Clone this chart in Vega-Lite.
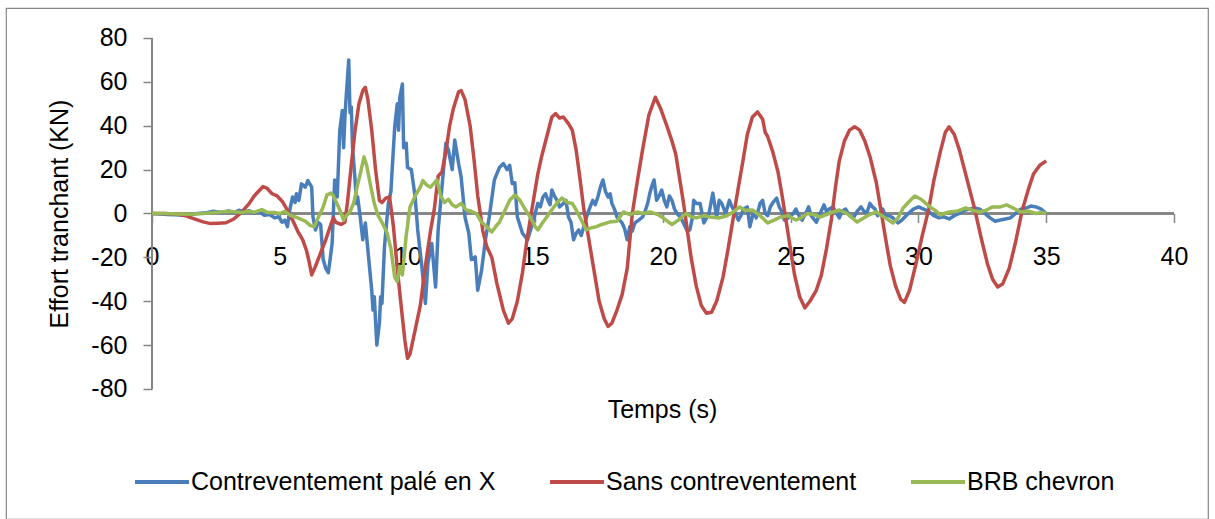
{
"$schema": "https://vega.github.io/schema/vega-lite/v6.json",
"width": 1202, "height": 511,
"autosize": {"type": "none"},
"padding": {"left": 6, "top": 8, "right": 7, "bottom": 0},
"background": "white",
"config": {
  "view": {"stroke": "#868686", "strokeWidth": 1.2},
  "font": "Liberation Sans",
  "axis": {"domain": false, "grid": false, "tickColor": "#868686", "tickWidth": 1.5, "tickSize": 9,
    "labelFont": "Liberation Sans", "labelFontSize": 25, "labelColor": "#000000", "labelExpr": "'' + datum.value",
    "titleFont": "Liberation Sans", "titleFontSize": 25, "titleFontWeight": "normal", "titleColor": "#000000"},
  "legend": {"labelFont": "Liberation Sans", "labelFontSize": 25, "labelColor": "#000000"}
},
"data": {"values": [
{"s":"Contreventement palé en X","t":0,"v":0},{"s":"Contreventement palé en X","t":0.3,"v":-0.2},{"s":"Contreventement palé en X","t":0.6,"v":-0.5},{"s":"Contreventement palé en X","t":0.9,"v":-0.6},{"s":"Contreventement palé en X","t":1.2,"v":-0.8},{"s":"Contreventement palé en X","t":1.5,"v":-0.5},{"s":"Contreventement palé en X","t":1.8,"v":0},{"s":"Contreventement palé en X","t":2.1,"v":0.3},{"s":"Contreventement palé en X","t":2.4,"v":1},{"s":"Contreventement palé en X","t":2.7,"v":0.5},{"s":"Contreventement palé en X","t":3.0,"v":1.2},{"s":"Contreventement palé en X","t":3.2,"v":0.4},{"s":"Contreventement palé en X","t":3.4,"v":1.5},{"s":"Contreventement palé en X","t":3.6,"v":0.6},{"s":"Contreventement palé en X","t":3.8,"v":1.3},{"s":"Contreventement palé en X","t":4.0,"v":0.2},{"s":"Contreventement palé en X","t":4.2,"v":0.8},{"s":"Contreventement palé en X","t":4.4,"v":-0.8},{"s":"Contreventement palé en X","t":4.6,"v":-0.5},{"s":"Contreventement palé en X","t":4.8,"v":-2},{"s":"Contreventement palé en X","t":4.95,"v":-1.5},{"s":"Contreventement palé en X","t":5.1,"v":-4},{"s":"Contreventement palé en X","t":5.2,"v":-3},{"s":"Contreventement palé en X","t":5.3,"v":-6},{"s":"Contreventement palé en X","t":5.4,"v":2},{"s":"Contreventement palé en X","t":5.5,"v":7.5},{"s":"Contreventement palé en X","t":5.6,"v":5},{"s":"Contreventement palé en X","t":5.65,"v":9},{"s":"Contreventement palé en X","t":5.75,"v":6},{"s":"Contreventement palé en X","t":5.85,"v":13.5},{"s":"Contreventement palé en X","t":6.0,"v":12},{"s":"Contreventement palé en X","t":6.1,"v":15},{"s":"Contreventement palé en X","t":6.2,"v":13},{"s":"Contreventement palé en X","t":6.25,"v":12},{"s":"Contreventement palé en X","t":6.3,"v":-1.6},{"s":"Contreventement palé en X","t":6.4,"v":-7.5},{"s":"Contreventement palé en X","t":6.5,"v":-4},{"s":"Contreventement palé en X","t":6.6,"v":-5},{"s":"Contreventement palé en X","t":6.7,"v":-21},{"s":"Contreventement palé en X","t":6.8,"v":-25},{"s":"Contreventement palé en X","t":6.9,"v":-27},{"s":"Contreventement palé en X","t":6.95,"v":-22.8},{"s":"Contreventement palé en X","t":7.05,"v":-13.7},{"s":"Contreventement palé en X","t":7.15,"v":15.3},{"s":"Contreventement palé en X","t":7.25,"v":7.5},{"s":"Contreventement palé en X","t":7.35,"v":38},{"s":"Contreventement palé en X","t":7.45,"v":47},{"s":"Contreventement palé en X","t":7.5,"v":30},{"s":"Contreventement palé en X","t":7.55,"v":44},{"s":"Contreventement palé en X","t":7.6,"v":53},{"s":"Contreventement palé en X","t":7.7,"v":70},{"s":"Contreventement palé en X","t":7.75,"v":46},{"s":"Contreventement palé en X","t":7.8,"v":48.6},{"s":"Contreventement palé en X","t":7.85,"v":30},{"s":"Contreventement palé en X","t":7.95,"v":15},{"s":"Contreventement palé en X","t":8.0,"v":4.6},{"s":"Contreventement palé en X","t":8.05,"v":7.5},{"s":"Contreventement palé en X","t":8.15,"v":-1.6},{"s":"Contreventement palé en X","t":8.25,"v":-12},{"s":"Contreventement palé en X","t":8.35,"v":-4.3},{"s":"Contreventement palé en X","t":8.5,"v":-22.8},{"s":"Contreventement palé en X","t":8.6,"v":-35},{"s":"Contreventement palé en X","t":8.65,"v":-44},{"s":"Contreventement palé en X","t":8.7,"v":-38},{"s":"Contreventement palé en X","t":8.8,"v":-60},{"s":"Contreventement palé en X","t":8.9,"v":-50},{"s":"Contreventement palé en X","t":8.95,"v":-38},{"s":"Contreventement palé en X","t":9.0,"v":-41},{"s":"Contreventement palé en X","t":9.1,"v":-15},{"s":"Contreventement palé en X","t":9.25,"v":4.6},{"s":"Contreventement palé en X","t":9.35,"v":10},{"s":"Contreventement palé en X","t":9.4,"v":20},{"s":"Contreventement palé en X","t":9.5,"v":39.4},{"s":"Contreventement palé en X","t":9.6,"v":50},{"s":"Contreventement palé en X","t":9.65,"v":38},{"s":"Contreventement palé en X","t":9.7,"v":53},{"s":"Contreventement palé en X","t":9.8,"v":59},{"s":"Contreventement palé en X","t":9.85,"v":30},{"s":"Contreventement palé en X","t":9.95,"v":32},{"s":"Contreventement palé en X","t":10.0,"v":21},{"s":"Contreventement palé en X","t":10.15,"v":20},{"s":"Contreventement palé en X","t":10.3,"v":7.5},{"s":"Contreventement palé en X","t":10.4,"v":-7.5},{"s":"Contreventement palé en X","t":10.55,"v":-22.8},{"s":"Contreventement palé en X","t":10.7,"v":-41},{"s":"Contreventement palé en X","t":10.8,"v":-22.8},{"s":"Contreventement palé en X","t":10.95,"v":-13.7},{"s":"Contreventement palé en X","t":11.1,"v":-33.5},{"s":"Contreventement palé en X","t":11.2,"v":-7.5},{"s":"Contreventement palé en X","t":11.35,"v":12},{"s":"Contreventement palé en X","t":11.5,"v":32},{"s":"Contreventement palé en X","t":11.6,"v":29},{"s":"Contreventement palé en X","t":11.75,"v":20},{"s":"Contreventement palé en X","t":11.85,"v":33.5},{"s":"Contreventement palé en X","t":12.0,"v":22.8},{"s":"Contreventement palé en X","t":12.1,"v":16.6},{"s":"Contreventement palé en X","t":12.25,"v":-1.6},{"s":"Contreventement palé en X","t":12.4,"v":-9},{"s":"Contreventement palé en X","t":12.5,"v":-21},{"s":"Contreventement palé en X","t":12.65,"v":-19.8},{"s":"Contreventement palé en X","t":12.75,"v":-35},{"s":"Contreventement palé en X","t":12.9,"v":-25.8},{"s":"Contreventement palé en X","t":13.05,"v":-12},{"s":"Contreventement palé en X","t":13.2,"v":-1.6},{"s":"Contreventement palé en X","t":13.4,"v":15.3},{"s":"Contreventement palé en X","t":13.6,"v":21},{"s":"Contreventement palé en X","t":13.75,"v":22.8},{"s":"Contreventement palé en X","t":13.9,"v":20},{"s":"Contreventement palé en X","t":14.0,"v":22},{"s":"Contreventement palé en X","t":14.1,"v":13.7},{"s":"Contreventement palé en X","t":14.2,"v":14},{"s":"Contreventement palé en X","t":14.3,"v":-1.6},{"s":"Contreventement palé en X","t":14.5,"v":-9},{"s":"Contreventement palé en X","t":14.7,"v":-12},{"s":"Contreventement palé en X","t":14.9,"v":-4.3},{"s":"Contreventement palé en X","t":15.1,"v":4.6},{"s":"Contreventement palé en X","t":15.3,"v":7.5},{"s":"Contreventement palé en X","t":15.5,"v":6},{"s":"Contreventement palé en X","t":15.65,"v":10.7},{"s":"Contreventement palé en X","t":15.85,"v":6},{"s":"Contreventement palé en X","t":16.1,"v":4.6},{"s":"Contreventement palé en X","t":16.3,"v":-1.6},{"s":"Contreventement palé en X","t":16.5,"v":-12},{"s":"Contreventement palé en X","t":16.7,"v":-7.5},{"s":"Contreventement palé en X","t":16.9,"v":-6},{"s":"Contreventement palé en X","t":17.05,"v":0},{"s":"Contreventement palé en X","t":17.25,"v":6},{"s":"Contreventement palé en X","t":17.45,"v":7.5},{"s":"Contreventement palé en X","t":17.65,"v":15.3},{"s":"Contreventement palé en X","t":17.85,"v":7.5},{"s":"Contreventement palé en X","t":18.0,"v":4.6},{"s":"Contreventement palé en X","t":18.2,"v":-1.6},{"s":"Contreventement palé en X","t":18.4,"v":-4.3},{"s":"Contreventement palé en X","t":18.6,"v":-12},{"s":"Contreventement palé en X","t":18.7,"v":-6},{"s":"Contreventement palé en X","t":18.9,"v":-4.3},{"s":"Contreventement palé en X","t":19.2,"v":-1.6},{"s":"Contreventement palé en X","t":19.4,"v":4.6},{"s":"Contreventement palé en X","t":19.55,"v":12},{"s":"Contreventement palé en X","t":19.65,"v":15.3},{"s":"Contreventement palé en X","t":19.75,"v":6},{"s":"Contreventement palé en X","t":19.95,"v":10.7},{"s":"Contreventement palé en X","t":20.15,"v":3},{"s":"Contreventement palé en X","t":20.35,"v":6},{"s":"Contreventement palé en X","t":20.55,"v":0},{"s":"Contreventement palé en X","t":20.8,"v":-4.3},{"s":"Contreventement palé en X","t":21.05,"v":-7.5},{"s":"Contreventement palé en X","t":21.3,"v":4.6},{"s":"Contreventement palé en X","t":21.45,"v":4.6},{"s":"Contreventement palé en X","t":21.6,"v":-4.3},{"s":"Contreventement palé en X","t":21.8,"v":0},{"s":"Contreventement palé en X","t":21.95,"v":9.3},{"s":"Contreventement palé en X","t":22.1,"v":-1.6},{"s":"Contreventement palé en X","t":22.3,"v":4.6},{"s":"Contreventement palé en X","t":22.45,"v":0},{"s":"Contreventement palé en X","t":22.6,"v":6},{"s":"Contreventement palé en X","t":22.8,"v":1},{"s":"Contreventement palé en X","t":22.95,"v":-3},{"s":"Contreventement palé en X","t":23.15,"v":2},{"s":"Contreventement palé en X","t":23.4,"v":-6},{"s":"Contreventement palé en X","t":23.55,"v":1},{"s":"Contreventement palé en X","t":23.8,"v":4.6},{"s":"Contreventement palé en X","t":24.0,"v":0},{"s":"Contreventement palé en X","t":24.2,"v":3},{"s":"Contreventement palé en X","t":24.45,"v":7},{"s":"Contreventement palé en X","t":24.65,"v":1},{"s":"Contreventement palé en X","t":24.9,"v":-2},{"s":"Contreventement palé en X","t":25.1,"v":0},{"s":"Contreventement palé en X","t":25.35,"v":-1.6},{"s":"Contreventement palé en X","t":25.6,"v":0.5},{"s":"Contreventement palé en X","t":25.8,"v":-1},{"s":"Contreventement palé en X","t":26.0,"v":-4},{"s":"Contreventement palé en X","t":26.3,"v":3.9},{"s":"Contreventement palé en X","t":26.5,"v":2},{"s":"Contreventement palé en X","t":26.8,"v":0},{"s":"Contreventement palé en X","t":27.0,"v":1},{"s":"Contreventement palé en X","t":27.3,"v":-1},{"s":"Contreventement palé en X","t":27.6,"v":1},{"s":"Contreventement palé en X","t":27.9,"v":0.5},{"s":"Contreventement palé en X","t":28.1,"v":4.6},{"s":"Contreventement palé en X","t":28.3,"v":2},{"s":"Contreventement palé en X","t":28.5,"v":0},{"s":"Contreventement palé en X","t":28.7,"v":-1},{"s":"Contreventement palé en X","t":29.0,"v":-2},{"s":"Contreventement palé en X","t":29.2,"v":-4.3},{"s":"Contreventement palé en X","t":29.35,"v":-3},{"s":"Contreventement palé en X","t":29.6,"v":0},{"s":"Contreventement palé en X","t":29.8,"v":2},{"s":"Contreventement palé en X","t":30.0,"v":3},{"s":"Contreventement palé en X","t":30.2,"v":2},{"s":"Contreventement palé en X","t":30.4,"v":1},{"s":"Contreventement palé en X","t":30.6,"v":-1},{"s":"Contreventement palé en X","t":30.8,"v":-2},{"s":"Contreventement palé en X","t":31.0,"v":-1.5},{"s":"Contreventement palé en X","t":31.2,"v":-2.5},{"s":"Contreventement palé en X","t":31.4,"v":-1},{"s":"Contreventement palé en X","t":31.6,"v":0},{"s":"Contreventement palé en X","t":31.8,"v":1.5},{"s":"Contreventement palé en X","t":32.0,"v":2},{"s":"Contreventement palé en X","t":32.2,"v":2.5},{"s":"Contreventement palé en X","t":32.4,"v":2},{"s":"Contreventement palé en X","t":32.6,"v":0},{"s":"Contreventement palé en X","t":32.8,"v":-2},{"s":"Contreventement palé en X","t":33.0,"v":-3.5},{"s":"Contreventement palé en X","t":33.2,"v":-3},{"s":"Contreventement palé en X","t":33.4,"v":-2.5},{"s":"Contreventement palé en X","t":33.6,"v":-2},{"s":"Contreventement palé en X","t":33.8,"v":0},{"s":"Contreventement palé en X","t":34.0,"v":2},{"s":"Contreventement palé en X","t":34.2,"v":2.5},{"s":"Contreventement palé en X","t":34.4,"v":3.4},{"s":"Contreventement palé en X","t":34.6,"v":3},{"s":"Contreventement palé en X","t":34.8,"v":2},{"s":"Contreventement palé en X","t":35.0,"v":0},
{"s":"Contreventement palé en X","t":15.2,"v":3},{"s":"Contreventement palé en X","t":15.4,"v":9},{"s":"Contreventement palé en X","t":15.58,"v":4},{"s":"Contreventement palé en X","t":15.75,"v":8},{"s":"Contreventement palé en X","t":15.95,"v":3},{"s":"Contreventement palé en X","t":16.2,"v":6},{"s":"Contreventement palé en X","t":16.4,"v":-4},{"s":"Contreventement palé en X","t":16.6,"v":-9},{"s":"Contreventement palé en X","t":16.8,"v":-10},{"s":"Contreventement palé en X","t":17.15,"v":3},{"s":"Contreventement palé en X","t":17.35,"v":4},{"s":"Contreventement palé en X","t":17.55,"v":12},{"s":"Contreventement palé en X","t":17.75,"v":10},{"s":"Contreventement palé en X","t":17.93,"v":9},{"s":"Contreventement palé en X","t":18.1,"v":2},{"s":"Contreventement palé en X","t":18.3,"v":-3},{"s":"Contreventement palé en X","t":18.5,"v":-7},{"s":"Contreventement palé en X","t":18.8,"v":-8},{"s":"Contreventement palé en X","t":19.05,"v":-3},{"s":"Contreventement palé en X","t":19.3,"v":1},{"s":"Contreventement palé en X","t":19.48,"v":9},{"s":"Contreventement palé en X","t":19.85,"v":8},{"s":"Contreventement palé en X","t":20.05,"v":6},{"s":"Contreventement palé en X","t":20.25,"v":8},{"s":"Contreventement palé en X","t":20.45,"v":2},{"s":"Contreventement palé en X","t":20.7,"v":-2},{"s":"Contreventement palé en X","t":20.95,"v":-8},{"s":"Contreventement palé en X","t":21.15,"v":-2},{"s":"Contreventement palé en X","t":21.2,"v":6},{"s":"Contreventement palé en X","t":22.2,"v":6},{"s":"Contreventement palé en X","t":22.7,"v":3},{"s":"Contreventement palé en X","t":23.05,"v":-1},{"s":"Contreventement palé en X","t":23.3,"v":3},{"s":"Contreventement palé en X","t":23.65,"v":-2},{"s":"Contreventement palé en X","t":23.9,"v":6},{"s":"Contreventement palé en X","t":24.1,"v":-1},{"s":"Contreventement palé en X","t":24.3,"v":5},{"s":"Contreventement palé en X","t":24.55,"v":3},{"s":"Contreventement palé en X","t":24.75,"v":-3},{"s":"Contreventement palé en X","t":25.2,"v":2},{"s":"Contreventement palé en X","t":25.45,"v":-3},{"s":"Contreventement palé en X","t":25.7,"v":3},{"s":"Contreventement palé en X","t":26.15,"v":0},{"s":"Contreventement palé en X","t":26.4,"v":1},{"s":"Contreventement palé en X","t":26.65,"v":3},{"s":"Contreventement palé en X","t":26.9,"v":-2},{"s":"Contreventement palé en X","t":27.15,"v":2},{"s":"Contreventement palé en X","t":27.45,"v":-2},{"s":"Contreventement palé en X","t":27.75,"v":3},{"s":"Contreventement palé en X","t":28.0,"v":1},{"s":"Contreventement palé en X","t":28.2,"v":3},{"s":"Contreventement palé en X","t":28.4,"v":-1},{"s":"Contreventement palé en X","t":28.6,"v":2},{"s":"Contreventement palé en X","t":28.85,"v":-1},
{"s":"Sans contreventement","t":0,"v":0},{"s":"Sans contreventement","t":0.5,"v":0},{"s":"Sans contreventement","t":1.0,"v":-0.3},{"s":"Sans contreventement","t":1.3,"v":-1},{"s":"Sans contreventement","t":1.6,"v":-2.2},{"s":"Sans contreventement","t":2.0,"v":-3.8},{"s":"Sans contreventement","t":2.3,"v":-4.6},{"s":"Sans contreventement","t":2.6,"v":-4.4},{"s":"Sans contreventement","t":2.9,"v":-4.2},{"s":"Sans contreventement","t":3.2,"v":-2.5},{"s":"Sans contreventement","t":3.5,"v":0.5},{"s":"Sans contreventement","t":3.8,"v":4.5},{"s":"Sans contreventement","t":4.0,"v":8},{"s":"Sans contreventement","t":4.2,"v":10.5},{"s":"Sans contreventement","t":4.35,"v":12.3},{"s":"Sans contreventement","t":4.5,"v":11.5},{"s":"Sans contreventement","t":4.7,"v":9},{"s":"Sans contreventement","t":4.9,"v":8},{"s":"Sans contreventement","t":5.1,"v":5.5},{"s":"Sans contreventement","t":5.3,"v":1.5},{"s":"Sans contreventement","t":5.5,"v":-3},{"s":"Sans contreventement","t":5.7,"v":-8},{"s":"Sans contreventement","t":5.9,"v":-12},{"s":"Sans contreventement","t":6.05,"v":-17},{"s":"Sans contreventement","t":6.15,"v":-22},{"s":"Sans contreventement","t":6.25,"v":-28},{"s":"Sans contreventement","t":6.4,"v":-24},{"s":"Sans contreventement","t":6.6,"v":-18},{"s":"Sans contreventement","t":6.8,"v":-12},{"s":"Sans contreventement","t":7.0,"v":-5},{"s":"Sans contreventement","t":7.1,"v":-2},{"s":"Sans contreventement","t":7.2,"v":-4},{"s":"Sans contreventement","t":7.4,"v":-5},{"s":"Sans contreventement","t":7.55,"v":-4},{"s":"Sans contreventement","t":7.65,"v":5},{"s":"Sans contreventement","t":7.8,"v":22},{"s":"Sans contreventement","t":7.95,"v":38},{"s":"Sans contreventement","t":8.1,"v":50},{"s":"Sans contreventement","t":8.25,"v":56},{"s":"Sans contreventement","t":8.35,"v":57.5},{"s":"Sans contreventement","t":8.45,"v":52},{"s":"Sans contreventement","t":8.6,"v":38},{"s":"Sans contreventement","t":8.75,"v":20},{"s":"Sans contreventement","t":8.9,"v":6},{"s":"Sans contreventement","t":9.0,"v":5},{"s":"Sans contreventement","t":9.15,"v":7},{"s":"Sans contreventement","t":9.3,"v":7.5},{"s":"Sans contreventement","t":9.45,"v":-6},{"s":"Sans contreventement","t":9.6,"v":-25},{"s":"Sans contreventement","t":9.75,"v":-42},{"s":"Sans contreventement","t":9.9,"v":-58},{"s":"Sans contreventement","t":10.0,"v":-66},{"s":"Sans contreventement","t":10.1,"v":-64},{"s":"Sans contreventement","t":10.3,"v":-53},{"s":"Sans contreventement","t":10.5,"v":-42},{"s":"Sans contreventement","t":10.7,"v":-24},{"s":"Sans contreventement","t":10.9,"v":-8},{"s":"Sans contreventement","t":11.05,"v":2},{"s":"Sans contreventement","t":11.2,"v":17},{"s":"Sans contreventement","t":11.35,"v":19},{"s":"Sans contreventement","t":11.5,"v":28},{"s":"Sans contreventement","t":11.65,"v":40},{"s":"Sans contreventement","t":11.8,"v":48},{"s":"Sans contreventement","t":12.0,"v":55.5},{"s":"Sans contreventement","t":12.1,"v":56},{"s":"Sans contreventement","t":12.25,"v":52},{"s":"Sans contreventement","t":12.45,"v":40},{"s":"Sans contreventement","t":12.6,"v":25},{"s":"Sans contreventement","t":12.75,"v":8},{"s":"Sans contreventement","t":12.95,"v":-8},{"s":"Sans contreventement","t":13.1,"v":-15},{"s":"Sans contreventement","t":13.3,"v":-20},{"s":"Sans contreventement","t":13.5,"v":-32},{"s":"Sans contreventement","t":13.75,"v":-44},{"s":"Sans contreventement","t":13.95,"v":-50},{"s":"Sans contreventement","t":14.1,"v":-48},{"s":"Sans contreventement","t":14.3,"v":-40},{"s":"Sans contreventement","t":14.5,"v":-27},{"s":"Sans contreventement","t":14.7,"v":-10},{"s":"Sans contreventement","t":14.9,"v":4},{"s":"Sans contreventement","t":15.1,"v":18},{"s":"Sans contreventement","t":15.25,"v":26},{"s":"Sans contreventement","t":15.45,"v":35},{"s":"Sans contreventement","t":15.65,"v":44},{"s":"Sans contreventement","t":15.8,"v":45.5},{"s":"Sans contreventement","t":15.95,"v":43.5},{"s":"Sans contreventement","t":16.1,"v":44},{"s":"Sans contreventement","t":16.3,"v":41},{"s":"Sans contreventement","t":16.45,"v":38},{"s":"Sans contreventement","t":16.6,"v":29},{"s":"Sans contreventement","t":16.75,"v":16},{"s":"Sans contreventement","t":16.9,"v":2},{"s":"Sans contreventement","t":17.1,"v":-12},{"s":"Sans contreventement","t":17.3,"v":-26},{"s":"Sans contreventement","t":17.5,"v":-40},{"s":"Sans contreventement","t":17.7,"v":-48},{"s":"Sans contreventement","t":17.85,"v":-51.5},{"s":"Sans contreventement","t":18.0,"v":-50},{"s":"Sans contreventement","t":18.2,"v":-44},{"s":"Sans contreventement","t":18.4,"v":-37},{"s":"Sans contreventement","t":18.6,"v":-25},{"s":"Sans contreventement","t":18.8,"v":0},{"s":"Sans contreventement","t":19.0,"v":15},{"s":"Sans contreventement","t":19.2,"v":29},{"s":"Sans contreventement","t":19.45,"v":45},{"s":"Sans contreventement","t":19.7,"v":53},{"s":"Sans contreventement","t":19.9,"v":48},{"s":"Sans contreventement","t":20.15,"v":40},{"s":"Sans contreventement","t":20.35,"v":33},{"s":"Sans contreventement","t":20.5,"v":27},{"s":"Sans contreventement","t":20.8,"v":5},{"s":"Sans contreventement","t":21.1,"v":-20},{"s":"Sans contreventement","t":21.3,"v":-33},{"s":"Sans contreventement","t":21.5,"v":-42},{"s":"Sans contreventement","t":21.7,"v":-45.5},{"s":"Sans contreventement","t":21.9,"v":-45},{"s":"Sans contreventement","t":22.1,"v":-40},{"s":"Sans contreventement","t":22.35,"v":-29},{"s":"Sans contreventement","t":22.55,"v":-16},{"s":"Sans contreventement","t":22.75,"v":-2},{"s":"Sans contreventement","t":22.95,"v":12},{"s":"Sans contreventement","t":23.1,"v":22},{"s":"Sans contreventement","t":23.3,"v":36},{"s":"Sans contreventement","t":23.5,"v":44},{"s":"Sans contreventement","t":23.7,"v":46.3},{"s":"Sans contreventement","t":23.9,"v":43},{"s":"Sans contreventement","t":24.0,"v":37},{"s":"Sans contreventement","t":24.1,"v":35},{"s":"Sans contreventement","t":24.3,"v":28},{"s":"Sans contreventement","t":24.5,"v":19},{"s":"Sans contreventement","t":24.65,"v":9},{"s":"Sans contreventement","t":24.8,"v":-2},{"s":"Sans contreventement","t":25.0,"v":-17},{"s":"Sans contreventement","t":25.15,"v":-28},{"s":"Sans contreventement","t":25.35,"v":-38},{"s":"Sans contreventement","t":25.55,"v":-43},{"s":"Sans contreventement","t":25.75,"v":-40},{"s":"Sans contreventement","t":26.0,"v":-35},{"s":"Sans contreventement","t":26.2,"v":-28},{"s":"Sans contreventement","t":26.4,"v":-16},{"s":"Sans contreventement","t":26.6,"v":-2},{"s":"Sans contreventement","t":26.75,"v":12},{"s":"Sans contreventement","t":26.9,"v":24},{"s":"Sans contreventement","t":27.1,"v":33},{"s":"Sans contreventement","t":27.3,"v":38},{"s":"Sans contreventement","t":27.5,"v":39.5},{"s":"Sans contreventement","t":27.7,"v":38},{"s":"Sans contreventement","t":27.9,"v":33},{"s":"Sans contreventement","t":28.1,"v":26},{"s":"Sans contreventement","t":28.35,"v":14},{"s":"Sans contreventement","t":28.55,"v":0},{"s":"Sans contreventement","t":28.75,"v":-14},{"s":"Sans contreventement","t":28.9,"v":-24},{"s":"Sans contreventement","t":29.1,"v":-33},{"s":"Sans contreventement","t":29.3,"v":-39},{"s":"Sans contreventement","t":29.45,"v":-40.5},{"s":"Sans contreventement","t":29.65,"v":-35},{"s":"Sans contreventement","t":29.9,"v":-23},{"s":"Sans contreventement","t":30.15,"v":-10},{"s":"Sans contreventement","t":30.4,"v":2},{"s":"Sans contreventement","t":30.6,"v":15},{"s":"Sans contreventement","t":30.85,"v":28},{"s":"Sans contreventement","t":31.05,"v":37},{"s":"Sans contreventement","t":31.2,"v":39.5},{"s":"Sans contreventement","t":31.4,"v":36},{"s":"Sans contreventement","t":31.6,"v":29},{"s":"Sans contreventement","t":31.8,"v":20},{"s":"Sans contreventement","t":32.0,"v":11},{"s":"Sans contreventement","t":32.2,"v":2},{"s":"Sans contreventement","t":32.45,"v":-11},{"s":"Sans contreventement","t":32.7,"v":-23},{"s":"Sans contreventement","t":32.9,"v":-30},{"s":"Sans contreventement","t":33.1,"v":-33.5},{"s":"Sans contreventement","t":33.3,"v":-32},{"s":"Sans contreventement","t":33.55,"v":-25},{"s":"Sans contreventement","t":33.8,"v":-13},{"s":"Sans contreventement","t":34.05,"v":1},{"s":"Sans contreventement","t":34.3,"v":11},{"s":"Sans contreventement","t":34.5,"v":18},{"s":"Sans contreventement","t":34.75,"v":22},{"s":"Sans contreventement","t":35.0,"v":24},
{"s":"BRB chevron","t":0,"v":0},{"s":"BRB chevron","t":0.5,"v":0},{"s":"BRB chevron","t":1.0,"v":-0.2},{"s":"BRB chevron","t":1.5,"v":-0.3},{"s":"BRB chevron","t":2.0,"v":0},{"s":"BRB chevron","t":2.5,"v":0.5},{"s":"BRB chevron","t":3.0,"v":1},{"s":"BRB chevron","t":3.5,"v":0.5},{"s":"BRB chevron","t":3.8,"v":1},{"s":"BRB chevron","t":4.0,"v":0.5},{"s":"BRB chevron","t":4.3,"v":1.8},{"s":"BRB chevron","t":4.5,"v":0.5},{"s":"BRB chevron","t":4.8,"v":0.5},{"s":"BRB chevron","t":5.0,"v":0},{"s":"BRB chevron","t":5.2,"v":1},{"s":"BRB chevron","t":5.4,"v":-0.7},{"s":"BRB chevron","t":5.7,"v":-2},{"s":"BRB chevron","t":6.0,"v":-3.5},{"s":"BRB chevron","t":6.2,"v":-5.5},{"s":"BRB chevron","t":6.35,"v":-6},{"s":"BRB chevron","t":6.5,"v":-2},{"s":"BRB chevron","t":6.7,"v":3},{"s":"BRB chevron","t":6.85,"v":8.5},{"s":"BRB chevron","t":7.0,"v":9.3},{"s":"BRB chevron","t":7.1,"v":8},{"s":"BRB chevron","t":7.3,"v":3},{"s":"BRB chevron","t":7.5,"v":-3},{"s":"BRB chevron","t":7.6,"v":-1},{"s":"BRB chevron","t":7.75,"v":0.7},{"s":"BRB chevron","t":7.9,"v":5},{"s":"BRB chevron","t":8.0,"v":10.7},{"s":"BRB chevron","t":8.15,"v":18},{"s":"BRB chevron","t":8.3,"v":25.8},{"s":"BRB chevron","t":8.4,"v":22},{"s":"BRB chevron","t":8.55,"v":13},{"s":"BRB chevron","t":8.7,"v":4.6},{"s":"BRB chevron","t":8.85,"v":-1},{"s":"BRB chevron","t":9.0,"v":-4},{"s":"BRB chevron","t":9.2,"v":-8.8},{"s":"BRB chevron","t":9.35,"v":-16},{"s":"BRB chevron","t":9.5,"v":-29},{"s":"BRB chevron","t":9.6,"v":-31},{"s":"BRB chevron","t":9.7,"v":-24},{"s":"BRB chevron","t":9.8,"v":-28},{"s":"BRB chevron","t":9.95,"v":-10},{"s":"BRB chevron","t":10.1,"v":3},{"s":"BRB chevron","t":10.3,"v":8},{"s":"BRB chevron","t":10.5,"v":12},{"s":"BRB chevron","t":10.6,"v":15},{"s":"BRB chevron","t":10.75,"v":13},{"s":"BRB chevron","t":10.9,"v":12},{"s":"BRB chevron","t":11.05,"v":14},{"s":"BRB chevron","t":11.15,"v":15.3},{"s":"BRB chevron","t":11.3,"v":8},{"s":"BRB chevron","t":11.45,"v":5},{"s":"BRB chevron","t":11.6,"v":6.5},{"s":"BRB chevron","t":11.75,"v":4},{"s":"BRB chevron","t":11.9,"v":3},{"s":"BRB chevron","t":12.1,"v":4.6},{"s":"BRB chevron","t":12.3,"v":1.6},{"s":"BRB chevron","t":12.5,"v":1},{"s":"BRB chevron","t":12.7,"v":0},{"s":"BRB chevron","t":12.9,"v":-4},{"s":"BRB chevron","t":13.1,"v":-6},{"s":"BRB chevron","t":13.3,"v":-8.4},{"s":"BRB chevron","t":13.45,"v":-6},{"s":"BRB chevron","t":13.6,"v":-3.9},{"s":"BRB chevron","t":13.8,"v":1},{"s":"BRB chevron","t":14.0,"v":6},{"s":"BRB chevron","t":14.2,"v":8.4},{"s":"BRB chevron","t":14.4,"v":6},{"s":"BRB chevron","t":14.6,"v":2},{"s":"BRB chevron","t":14.8,"v":-1.6},{"s":"BRB chevron","t":15.0,"v":-6},{"s":"BRB chevron","t":15.1,"v":-7.5},{"s":"BRB chevron","t":15.3,"v":-4},{"s":"BRB chevron","t":15.45,"v":-1.6},{"s":"BRB chevron","t":15.7,"v":2.5},{"s":"BRB chevron","t":15.9,"v":5.5},{"s":"BRB chevron","t":16.05,"v":7},{"s":"BRB chevron","t":16.25,"v":5},{"s":"BRB chevron","t":16.45,"v":4.6},{"s":"BRB chevron","t":16.6,"v":1.6},{"s":"BRB chevron","t":16.8,"v":-3},{"s":"BRB chevron","t":17.0,"v":-7.5},{"s":"BRB chevron","t":17.2,"v":-6.5},{"s":"BRB chevron","t":17.4,"v":-6},{"s":"BRB chevron","t":17.6,"v":-5},{"s":"BRB chevron","t":17.9,"v":-3.9},{"s":"BRB chevron","t":18.2,"v":-3.5},{"s":"BRB chevron","t":18.45,"v":0.7},{"s":"BRB chevron","t":18.7,"v":-0.5},{"s":"BRB chevron","t":19.0,"v":0.7},{"s":"BRB chevron","t":19.2,"v":0},{"s":"BRB chevron","t":19.5,"v":0.7},{"s":"BRB chevron","t":19.8,"v":-0.5},{"s":"BRB chevron","t":20.0,"v":-2},{"s":"BRB chevron","t":20.35,"v":-5},{"s":"BRB chevron","t":20.6,"v":-3},{"s":"BRB chevron","t":20.9,"v":0},{"s":"BRB chevron","t":21.1,"v":-1.5},{"s":"BRB chevron","t":21.3,"v":-2},{"s":"BRB chevron","t":21.6,"v":-1},{"s":"BRB chevron","t":21.85,"v":-1.6},{"s":"BRB chevron","t":22.2,"v":-2},{"s":"BRB chevron","t":22.5,"v":-1},{"s":"BRB chevron","t":22.75,"v":0.7},{"s":"BRB chevron","t":23.0,"v":3},{"s":"BRB chevron","t":23.2,"v":1.5},{"s":"BRB chevron","t":23.5,"v":1.6},{"s":"BRB chevron","t":23.8,"v":-1},{"s":"BRB chevron","t":24.1,"v":-4.3},{"s":"BRB chevron","t":24.35,"v":-3},{"s":"BRB chevron","t":24.6,"v":-1.6},{"s":"BRB chevron","t":24.9,"v":-1},{"s":"BRB chevron","t":25.2,"v":-3},{"s":"BRB chevron","t":25.4,"v":-2},{"s":"BRB chevron","t":25.65,"v":0},{"s":"BRB chevron","t":25.9,"v":-0.5},{"s":"BRB chevron","t":26.15,"v":-1.6},{"s":"BRB chevron","t":26.5,"v":0},{"s":"BRB chevron","t":26.9,"v":1.6},{"s":"BRB chevron","t":27.2,"v":0},{"s":"BRB chevron","t":27.6,"v":-3.9},{"s":"BRB chevron","t":28.0,"v":-1},{"s":"BRB chevron","t":28.35,"v":0.7},{"s":"BRB chevron","t":28.7,"v":-2},{"s":"BRB chevron","t":29.0,"v":-4.3},{"s":"BRB chevron","t":29.2,"v":-2},{"s":"BRB chevron","t":29.4,"v":2.5},{"s":"BRB chevron","t":29.6,"v":5},{"s":"BRB chevron","t":29.85,"v":8},{"s":"BRB chevron","t":30.1,"v":6.5},{"s":"BRB chevron","t":30.45,"v":3},{"s":"BRB chevron","t":30.7,"v":1},{"s":"BRB chevron","t":30.85,"v":-0.7},{"s":"BRB chevron","t":31.0,"v":0},{"s":"BRB chevron","t":31.2,"v":0.7},{"s":"BRB chevron","t":31.5,"v":1},{"s":"BRB chevron","t":31.85,"v":2.5},{"s":"BRB chevron","t":32.1,"v":1.5},{"s":"BRB chevron","t":32.4,"v":0.7},{"s":"BRB chevron","t":32.65,"v":1.5},{"s":"BRB chevron","t":32.9,"v":3},{"s":"BRB chevron","t":33.2,"v":3},{"s":"BRB chevron","t":33.45,"v":3.9},{"s":"BRB chevron","t":33.7,"v":2.5},{"s":"BRB chevron","t":34.0,"v":0.7},{"s":"BRB chevron","t":34.3,"v":1},{"s":"BRB chevron","t":34.6,"v":0},{"s":"BRB chevron","t":34.8,"v":0.5},{"s":"BRB chevron","t":35.0,"v":0}
]},
"layer": [
  {"mark": {"type": "rule", "color": "#868686", "strokeWidth": 1.5},
   "encoding": {
     "x": {"datum": 0, "type": "quantitative",
       "axis": {"orient": "bottom", "offset": -305.5, "values": [0,5,10,15,20,25,30,35,40], "labelPadding": 22,
         "title": "Temps (s)", "titleX": 656, "titleY": 203.5, "titleAlign": "center", "titleBaseline": "alphabetic", "titleAngle": 0}},
     "y": {"datum": -80, "type": "quantitative",
       "axis": {"orient": "left", "offset": -146, "values": [-80,-60,-40,-20,0,20,40,60,80], "labelPadding": 16,
         "title": "Effort tranchant (KN)", "titleX": -85, "titleY": 205.5, "titleAlign": "center", "titleBaseline": "alphabetic", "titleAngle": -90}},
     "y2": {"datum": 80}}},
  {"mark": {"type": "rule", "color": "#868686", "strokeWidth": 1.5},
   "encoding": {
     "y": {"datum": 0, "type": "quantitative",
       "axis": {"orient": "left", "offset": -146, "values": [-80,-60,-40,-20,0,20,40,60,80], "labelPadding": 16,
         "title": "Effort tranchant (KN)", "titleX": -85, "titleY": 205.5, "titleAlign": "center", "titleBaseline": "alphabetic", "titleAngle": -90}},
     "x": {"datum": 0, "type": "quantitative",
       "axis": {"orient": "bottom", "offset": -305.5, "values": [0,5,10,15,20,25,30,35,40], "labelPadding": 22,
         "title": "Temps (s)", "titleX": 656, "titleY": 203.5, "titleAlign": "center", "titleBaseline": "alphabetic", "titleAngle": 0}},
     "x2": {"datum": 40}}},
  {"mark": {"type": "line", "strokeWidth": 3.5, "strokeJoin": "round"},
   "encoding": {
     "x": {"field": "t", "type": "quantitative",
       "scale": {"domain": [-5.714, 41.331], "nice": false, "zero": false},
       "axis": {"orient": "bottom", "offset": -305.5, "values": [0,5,10,15,20,25,30,35,40], "labelPadding": 22,
         "title": "Temps (s)", "titleX": 656, "titleY": 203.5, "titleAlign": "center", "titleBaseline": "alphabetic", "titleAngle": 0}},
     "y": {"field": "v", "type": "quantitative",
       "scale": {"domain": [-139.26, 93.675], "nice": false, "zero": false},
       "axis": {"orient": "left", "offset": -146, "values": [-80,-60,-40,-20,0,20,40,60,80], "labelPadding": 16,
         "title": "Effort tranchant (KN)", "titleX": -85, "titleY": 205.5, "titleAlign": "center", "titleBaseline": "alphabetic", "titleAngle": -90}},
     "color": {"field": "s", "type": "nominal",
       "scale": {"domain": ["Contreventement palé en X", "Sans contreventement", "BRB chevron"], "range": ["#4A7EBB", "#BE4B48", "#98B954"]},
       "legend": {"title": null, "orient": "none", "legendX": 127, "legendY": 445, "direction": "horizontal", "columns": 3,
         "symbolType": "stroke", "symbolSize": 2916, "symbolStrokeWidth": 4, "labelOffset": 0, "columnPadding": 46, "padding": 0, "labelLimit": 500}}
   }}
]
}
